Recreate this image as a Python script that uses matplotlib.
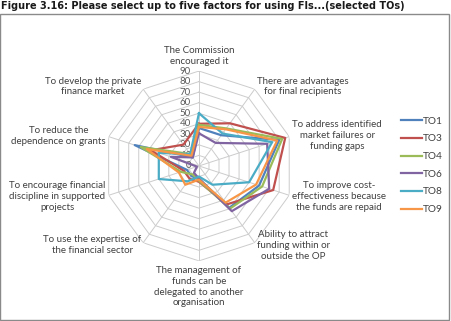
import numpy as np
import matplotlib.pyplot as plt
from matplotlib.patches import Rectangle
from matplotlib.transforms import offset_copy

# categories, clockwise from the top
categories = [
    "The Commission\nencouraged it",
    "There are advantages\nfor final recipients",
    "To address identified\nmarket failures or\nfunding gaps",
    "To improve cost-\neffectiveness because\nthe funds are repaid",
    "Ability to attract\nfunding within or\noutside the OP",
    "The management of\nfunds can be\ndelegated to another\norganisation",
    "To use the expertise of\nthe financial sector",
    "To encourage financial\ndiscipline in supported\nprojects",
    "To reduce the\ndependence on grants",
    "To develop the private\nfinance market",
]

series_names = ["TO1", "TO3", "TO4", "TO6", "TO8", "TO9"]
TO1 = [36, 36, 80, 60, 49, 12, 12, 12, 64, 10]
TO3 = [40, 50, 86, 74, 45, 15, 15, 15, 48, 25]
TO4 = [39, 44, 83, 63, 50, 14, 10, 18, 58, 14]
TO6 = [31, 27, 68, 70, 53, 12, 8, 2, 28, 10]
TO8 = [50, 38, 73, 50, 22, 10, 18, 40, 40, 14]
TO9 = [37, 43, 78, 57, 43, 13, 22, 20, 52, 12]
series = [TO1, TO3, TO4, TO6, TO8, TO9]
colors = ["#4F81BD", "#C0504D", "#9BBB59", "#8064A2", "#4BACC6", "#F79646"]

levels = list(range(10, 91, 10))
tick_labels = [str(v) for v in range(0, 91, 10)]

plt.rcParams['font.family'] = ['Lato', 'DejaVu Sans']

fig = plt.figure(figsize=(4.51, 3.21), dpi=100)

# frame around the chart
fig.patches.append(Rectangle((0.001, 0.003), 0.994, 0.953, transform=fig.transFigure,
                             fill=False, edgecolor="#8a8a8a", lw=1.0))
fig.text(0.002, 0.997, "Figure 3.16: Please select up to five factors for using FIs...(selected TOs)",
         family="DejaVu Sans", weight="bold", fontsize=7.0, ha="left", va="top", color="#1a1a1a")

ax = fig.add_axes([0.2306, 0.187, 0.421, 0.592], projection="polar")
ax.set_theta_zero_location("N")
ax.set_theta_direction(-1)
ax.set_ylim(0, 90)
ax.grid(False)
ax.spines["polar"].set_visible(False)
ax.set_xticks([])
ax.set_yticks([])
ax.patch.set_visible(False)

n = len(categories)
angles = np.linspace(0, 2 * np.pi, n, endpoint=False)
closed = np.append(angles, angles[0])

# decagon grid
for lv in levels:
    ax.plot(closed, [lv] * (n + 1), color="#cccccc", lw=0.7, zorder=1)
for a in angles:
    ax.plot([a, a], [0, 90], color="#cccccc", lw=0.7, zorder=1)

# radial tick labels
tt = offset_copy(ax.transData, fig=fig, x=-8, y=0, units="dots")
for v, lab in zip(range(0, 91, 10), tick_labels):
    ax.text(0, v, lab, transform=tt, ha="right", va="center", fontsize=7, color="#595959")

# category labels
for a, lab in zip(angles, categories):
    s = np.sin(a)
    if abs(s) < 0.01:
        ha = "center"
        va = "bottom" if np.cos(a) > 0 else "top"
        r = 95
    else:
        ha = "left" if s > 0 else "right"
        va = "center"
        r = 93
    ax.text(a, r, lab, ha=ha, va=va, multialignment="center", fontsize=7,
            color="#404040", linespacing=1.25, clip_on=False)

for name, vals, c in zip(series_names, series, colors):
    ax.plot(closed, vals + vals[:1], color=c, lw=1.6, label=name, zorder=3)

fig.legend(loc="upper left", bbox_to_anchor=(0.889, 0.637), frameon=False,
           handlelength=2.1, handletextpad=0.05, labelspacing=0.85, borderpad=0,
           borderaxespad=0, fontsize=7.3, labelcolor="#404040")

fig.savefig("out.png", dpi=100)
